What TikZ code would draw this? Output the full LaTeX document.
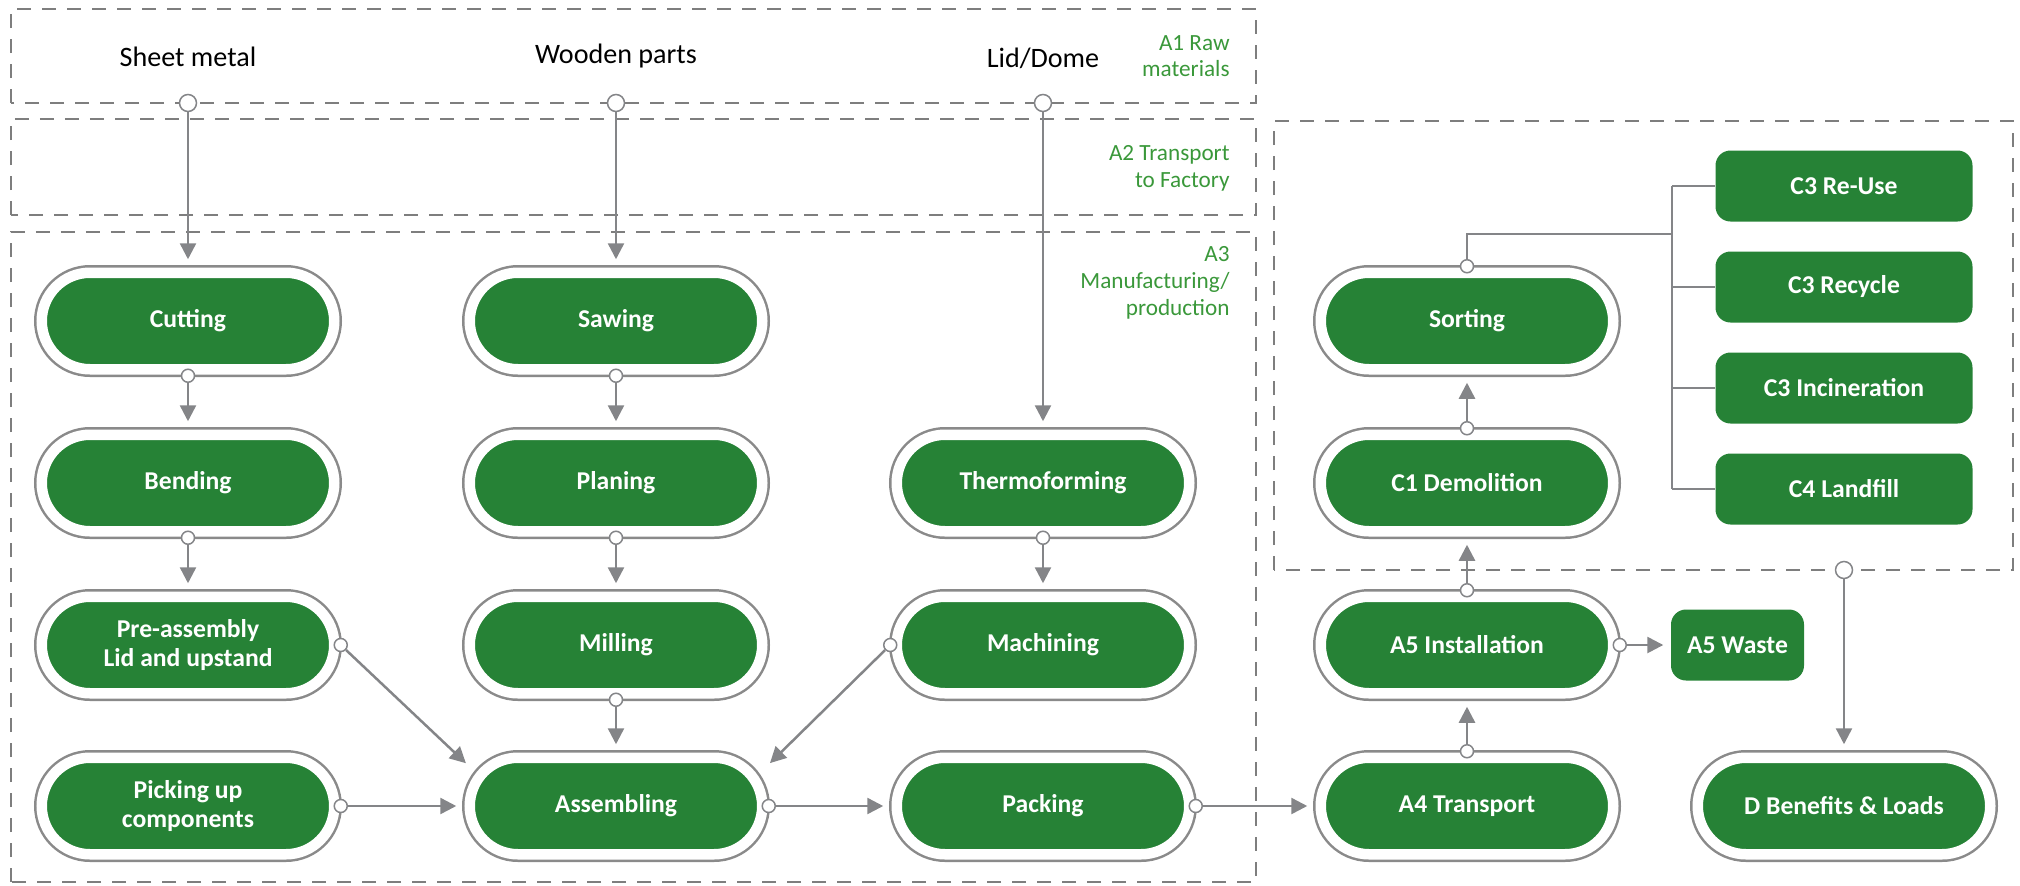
\documentclass[tikz,border=0pt]{standalone}
\usepackage{fontspec}
\setmainfont{Carlito}
\usepackage{tikz}
\usetikzlibrary{arrows.meta}

\definecolor{boxgreen}{HTML}{268236}
\definecolor{labelgreen}{HTML}{3A983A}
\definecolor{linegray}{HTML}{848588}
\definecolor{ringgray}{HTML}{8A8A8A}
\definecolor{dashgray}{HTML}{7E7E7E}

\begin{document}
\begin{tikzpicture}[
		process/.style={rectangle, rounded corners=0.4825cm, minimum width=2.925cm, minimum height=0.965cm,
			inner sep=0pt, outer sep=0.065cm, fill=boxgreen, draw=white, line width=0.105cm,
			preaction={draw=ringgray, line width=0.155cm},
			text=white, align=center, font=\fontsize{7.3}{8.5}\selectfont\bfseries},
		result/.style={rectangle, rounded corners=0.15cm, minimum width=2.57cm, minimum height=0.71cm,
			inner sep=0pt, fill=boxgreen, text=white, font=\fontsize{7.3}{8.5}\selectfont\bfseries},
		port/.style={circle, draw=linegray, fill=white, line width=0.015cm, inner sep=0pt, minimum size=0.13cm},
		bigport/.style={port, minimum size=0.17cm},
		phase/.style={draw=dashgray, line width=0.025cm, dash pattern=on 0.14cm off 0.11cm},
		phaselabel/.style={anchor=east, align=right, text=labelgreen, font=\fontsize{6.6}{7.6}\selectfont},
		material/.style={font=\fontsize{8}{9.6}\selectfont},
		flow/.style={draw=linegray, line width=0.025cm, -{Triangle[length=0.16cm, width=0.16cm]}, shorten >=0.07cm},
		tree/.style={draw=linegray, line width=0.022cm}
		]
		\useasboundingbox (0,0) rectangle (20.20,8.85);
		
		% Les cadres des phases
		\draw[phase] (0.11,7.82) rectangle (12.56,8.76);
		\draw[phase] (0.11,6.70) rectangle (12.56,7.66);
		\draw[phase] (0.11,0.03) rectangle (12.56,6.53);
		\draw[phase] (12.74,3.15) rectangle (20.13,7.64);
		
		\node[phaselabel] (a1) at (12.42,8.29) {A1 Raw\\materials};
		\node[phaselabel] (a2) at (12.42,7.17) {A2 Transport\\to Factory};
		\node[phaselabel] (a3) at (12.42,6.02) {A3\\Manufacturing/\\production};
		
		% Les matières premières
		\node[material] (sheet) at (1.88,8.28) {Sheet metal};
		\node[material] (wood) at (6.16,8.29) {Wooden parts};
		\node[material] (lid) at (10.43,8.27) {Lid/Dome};
		
		% Les étapes
		\node[process] (cut) at (1.88,5.64) {Cutting};
		\node[process] (bend) at (1.88,4.02) {Bending};
		\node[process] (pre) at (1.88,2.40) {Pre-assembly\\Lid and upstand};
		\node[process] (pick) at (1.88,0.79) {Picking up\\components};
		\node[process] (saw) at (6.16,5.64) {Sawing};
		\node[process] (plan) at (6.16,4.02) {Planing};
		\node[process] (mill) at (6.16,2.40) {Milling};
		\node[process] (asm) at (6.16,0.79) {Assembling};
		\node[process] (thermo) at (10.43,4.02) {Thermoforming};
		\node[process] (mach) at (10.43,2.40) {Machining};
		\node[process] (pack) at (10.43,0.79) {Packing};
		\node[process] (trans) at (14.67,0.79) {A4 Transport};
		\node[process] (inst) at (14.67,2.40) {A5 Installation};
		\node[process] (demo) at (14.67,4.02) {C1 Demolition};
		\node[process] (sort) at (14.67,5.64) {Sorting};
		\node[process] (ben) at (18.44,0.79) {D Benefits \& Loads};
		
		% Fin de vie
		\node[result] (reuse) at (18.44,6.99) {C3 Re-Use};
		\node[result] (recyc) at (18.44,5.98) {C3 Recycle};
		\node[result] (incin) at (18.44,4.97) {C3 Incineration};
		\node[result] (land) at (18.44,3.96) {C4 Landfill};
		\node[result, minimum width=1.33cm] (waste) at (17.375,2.40) {A5 Waste};
		
		% Les points de sortie
		\node[bigport] (sheet-o) at (1.88,7.82) {};
		\node[bigport] (wood-o) at (6.16,7.82) {};
		\node[bigport] (lid-o) at (10.43,7.82) {};
		\node[bigport] (end-o) at (18.44,3.15) {};
		\node[port] (cut-s) at (cut.south) {};
		\node[port] (bend-s) at (bend.south) {};
		\node[port] (pre-e) at (pre.east) {};
		\node[port] (pick-e) at (pick.east) {};
		\node[port] (saw-s) at (saw.south) {};
		\node[port] (plan-s) at (plan.south) {};
		\node[port] (mill-s) at (mill.south) {};
		\node[port] (asm-e) at (asm.east) {};
		\node[port] (thermo-s) at (thermo.south) {};
		\node[port] (mach-w) at (mach.west) {};
		\node[port] (pack-e) at (pack.east) {};
		\node[port] (trans-n) at (trans.north) {};
		\node[port] (inst-n) at (inst.north) {};
		\node[port] (inst-e) at (inst.east) {};
		\node[port] (demo-n) at (demo.north) {};
		\node[port] (sort-n) at (sort.north) {};
		
		% Les flèches
		\draw[flow] (sheet-o) -- (cut.north);
		\draw[flow] (wood-o) -- (saw.north);
		\draw[flow] (lid-o) -- (thermo.north);
		\draw[flow] (cut-s) -- (bend.north);
		\draw[flow] (bend-s) -- (pre.north);
		\draw[flow] (saw-s) -- (plan.north);
		\draw[flow] (plan-s) -- (mill.north);
		\draw[flow] (mill-s) -- (asm.north);
		\draw[flow] (thermo-s) -- (mach.north);
		\draw[flow] (pre-e) -- ([shift={(-1.45,0.38)}]asm.center);
		\draw[flow] (mach-w) -- ([shift={(1.49,0.38)}]asm.center);
		\draw[flow] (pick-e) -- (asm.west);
		\draw[flow] (asm-e) -- (pack.west);
		\draw[flow] (pack-e) -- (trans.west);
		\draw[flow] (trans-n) -- (inst.south);
		\draw[flow] (inst-e) -- (waste.west);
		\draw[flow] (inst-n) -- (demo.south);
		\draw[flow] (demo-n) -- (sort.south);
		\draw[flow] (end-o) -- (ben.north);
		
		% Le tri
		\coordinate (fork) at (16.72,6.51);
		\draw[tree] (sort-n) |- (fork);
		\draw[tree] (fork |- reuse.west) -- (fork |- land.west);
		\draw[tree] (fork |- reuse.west) -- (reuse.west);
		\draw[tree] (fork |- recyc.west) -- (recyc.west);
		\draw[tree] (fork |- incin.west) -- (incin.west);
		\draw[tree] (fork |- land.west) -- (land.west);
	\end{tikzpicture}
\end{document}
